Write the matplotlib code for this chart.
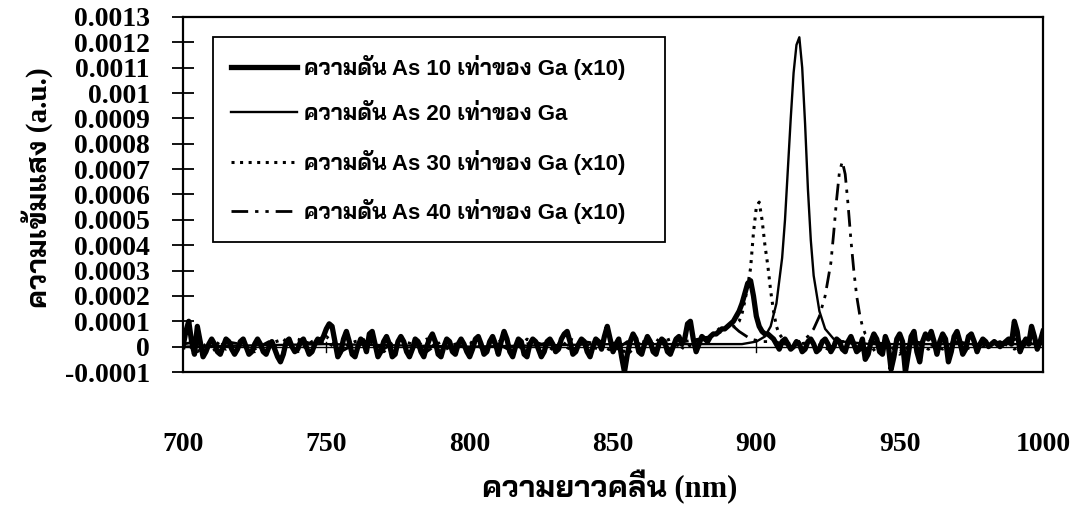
import matplotlib
matplotlib.use('Agg')
import numpy as np
import matplotlib.pyplot as plt
from matplotlib.ticker import FuncFormatter, MultipleLocator

# values, intensity in units of 1e-5 a.u.
scale = 1e-5

# As 10x Ga (x10) - thick solid, 1 nm steps from 700 to 1000 nm
wl_10 = list(range(700, 1001))
int_10 = [0, 6, 10, 2, -3, 8, 2, -4, -2, 1,
          3, 1, -2, -3, 0, 3, 2, -1, -3, -1,
          2, 3, 0, -3, -2, 1, 3, 1, -2, -3,
          0, 2, -1, -4, -6, -3, 2, 3, 0, -2,
          -1, 2, 3, 0, -3, -2, 1, 3, 2, 4,
          7, 9, 8, 2, -4, -2, 3, 6, 2, -3,
          -4, 0, 3, 2, -2, 5, 6, 1, -4, -2,
          2, 4, 1, -4, -3, 2, 4, 2, -2, -4,
          -1, 3, 2, -2, -4, 0, 3, 5, 2, -3,
          -4, 0, 3, 2, -2, -3, 1, 3, 1, -2,
          -4, -1, 3, 4, 1, -3, -2, 2, 4, 1,
          -3, 2, 6, 3, -2, -4, 0, 3, 2, -3,
          -4, 1, 3, 2, -1, -4, -2, 2, 3, 1,
          -2, -1, 3, 5, 6, 2, -3, -2, 1, 3,
          2, -2, -4, 0, 3, 2, -1, 4, 8, 3,
          -2, 1, 3, -4, -10, -3, 2, 5, 3, -2,
          -3, 1, 4, 2, -2, -3, 1, 3, 2, -2,
          -3, 0, 3, 4, 1, 3, 9, 10, 3, -2,
          1, 4, 3, 2, 4, 5, 5, 6, 7, 7,
          8, 9, 10, 12, 14, 17, 21, 25, 26, 20,
          12, 8, 6, 5, 5, 4, 3, 1, -1, 2,
          3, 1, -1, 0, 2, 1, -2, -1, 2, 3,
          1, -2, -1, 2, 3, 1, -2, 0, 3, 2,
          -1, -2, 2, 4, 1, -2, -1, 3, -5, -3,
          2, 5, 3, -2, -3, 4, 1, -9, -4, 3,
          5, 2, -10, -3, 4, 6, -2, -6, 2, 5,
          3, 6, 2, -3, 2, 5, 3, -6, -2, 4,
          6, 2, -3, -1, 4, 5, 2, -2, 1, 3,
          2, 0, 1, 2, 1, 0, 1, 2, 3, 1,
          10, 6, -2, 1, 3, 1, 8, 4, -1, 2,
          6]

# As 20x Ga - thin solid, smooth, strong peak near 915 nm
wl_20 = [700, 750, 800, 850, 880, 895, 900, 903, 905, 907, 909, 910, 911, 912, 913,
         914, 915, 916, 917, 918, 919, 920, 922, 924, 927, 930, 940, 960, 1000]
int_20 = [0, 1, 0, 1, 1, 1, 2, 4, 8, 17, 35, 50, 70, 90, 108,
          119, 122, 110, 88, 62, 42, 28, 14, 7, 3, 2, 1, 1, 1]

# As 30x Ga (x10) - dotted, peak near 901 nm
wl_30 = [700, 705, 710, 715, 720, 725, 730, 735, 740, 745, 750, 755, 760, 765, 770,
         775, 780, 785, 790, 795, 800, 805, 810, 815, 820, 825, 830, 835, 840, 845,
         850, 855, 860, 865, 870, 875, 880, 884, 886, 888, 890, 892, 894, 895, 896,
         897, 898, 899, 900, 901, 902, 903, 904, 905, 906, 907, 908, 910, 915, 920,
         925, 930, 935, 940, 945, 950, 955, 960, 965, 970, 975, 980, 985, 990, 995, 1000]
int_30 = [2, -2, 3, -1, 2, -2, 1, 3, -2, 2, 4, -1, 2, 3, -2,
          2, -1, 3, -2, 1, 2, -1, 3, -2, 1, 2, -2, 3, 1, -1,
          2, -3, 2, 1, 3, -1, 3, 4, 6, 8, 7, 8, 10, 13, 18,
          24, 31, 45, 55, 57, 50, 40, 32, 22, 14, 8, 5, 2, 1, 2,
          -1, 2, 1, -2, 2, -3, 2, -1, 2, 1, -1, 2, 0, 3, 1, 2]

# As 40x Ga (x10) - dash-dot-dot, peak near 930 nm
wl_40 = [700, 705, 710, 715, 720, 725, 730, 735, 740, 745, 750, 755, 760, 765, 770,
         775, 780, 785, 790, 795, 800, 805, 810, 815, 820, 825, 830, 835, 840, 845,
         850, 855, 860, 865, 870, 875, 880, 884, 888, 891, 894, 898, 902, 906, 910,
         915, 918, 920, 922, 924, 926, 927, 928, 929, 930, 931, 932, 933, 934, 935,
         936, 937, 938, 940, 945, 950, 955, 960, 965, 970, 975, 980, 985, 990, 995, 1000]
int_40 = [1, 2, -2, 2, 1, -1, 2, -2, 3, 1, 2, -2, 1, 2, -1,
          3, 1, -2, 2, 1, -1, 2, 1, -2, 3, 1, 2, -1, 2, 1,
          -2, 2, 1, 3, -1, 2, 3, 4, 6, 9, 6, 3, 2, 2, 1,
          2, 4, 7, 12, 20, 33, 45, 58, 69, 73, 68, 56, 42, 30, 20,
          13, 8, 5, 2, 1, -2, 2, 1, -1, 2, 1, 0, 2, -1, 1, 2]

labels = ['ความดัน As 10 เท่าของ Ga (x10)',
          'ความดัน As 20 เท่าของ Ga',
          'ความดัน As 30 เท่าของ Ga (x10)',
          'ความดัน As 40 เท่าของ Ga (x10)']

thai_serif = ['Liberation Serif', 'Bai Jamjuree']
thai_sans = ['Liberation Sans', 'Bai Jamjuree']

fig = plt.figure(figsize=(10.85, 5.07), dpi=100)
ax = fig.add_axes([183 / 1085, 1 - 372 / 507, 860 / 1085, 355 / 507])

ax.plot(wl_10, np.array(int_10) * scale, color='black', lw=3.8, solid_joinstyle='round',
        label=labels[0], zorder=3)
ax.plot(wl_20, np.array(int_20) * scale, color='black', lw=1.7, label=labels[1], zorder=4)
ax.plot(wl_30, np.array(int_30) * scale, color='black', lw=2.2, ls=(0, (1, 1.8)),
        label=labels[2], zorder=2)
ax.plot(wl_40, np.array(int_40) * scale, color='black', lw=2.0, ls=(0, (6, 2.5, 1.2, 2.5, 1.2, 2.5)),
        label=labels[3], zorder=2)

# x axis line crossing at zero (Excel style), labels stay at the bottom
ax.axhline(0, color='black', lw=1, zorder=1)
for t in np.arange(750, 1000, 50):
    ax.plot([t, t], [-0.00002, 0.00002], color='black', lw=1, zorder=1)

ax.set_xlim(700, 1000)
ax.set_ylim(-0.0001, 0.0013)
ax.xaxis.set_major_locator(MultipleLocator(50))
ax.yaxis.set_major_locator(MultipleLocator(0.0001))
ax.yaxis.set_major_formatter(FuncFormatter(lambda v, p: '{:g}'.format(round(v, 6))))

ax.tick_params(axis='y', direction='inout', length=16, width=1.3, labelsize=20, pad=16)
ax.tick_params(axis='x', length=0, labelsize=20, pad=43)
for lab in ax.get_xticklabels() + ax.get_yticklabels():
    lab.set_fontfamily('Liberation Serif')
    lab.set_fontweight('bold')

for s in ax.spines.values():
    s.set_linewidth(1.6)
    s.set_color('black')

ax.set_xlabel('ความยาวคลื่น (nm)', family=thai_serif, fontweight='bold', fontsize=22)
ax.set_ylabel('ความเข้มแสง (a.u.)', family=thai_serif, fontweight='bold', fontsize=21)
ax.xaxis.set_label_coords((610 - 183) / 860, (372 - 470) / 355)
ax.yaxis.set_label_coords((54 - 183) / 860, (372 - 188) / 355)

leg = ax.legend(loc='upper left', mode='expand',
                bbox_to_anchor=((213 - 183) / 860, (372 - 247) / 355, 452 / 860, 210 / 355),
                frameon=True, fancybox=False, edgecolor='black', framealpha=1,
                borderpad=0.8, labelspacing=1.1, handlelength=3.0, handletextpad=0.3,
                borderaxespad=0, prop={'family': thai_sans, 'size': 16, 'weight': 'bold'})
leg.get_frame().set_linewidth(1.3)

fig.savefig('out.png', dpi=100, facecolor='white')
